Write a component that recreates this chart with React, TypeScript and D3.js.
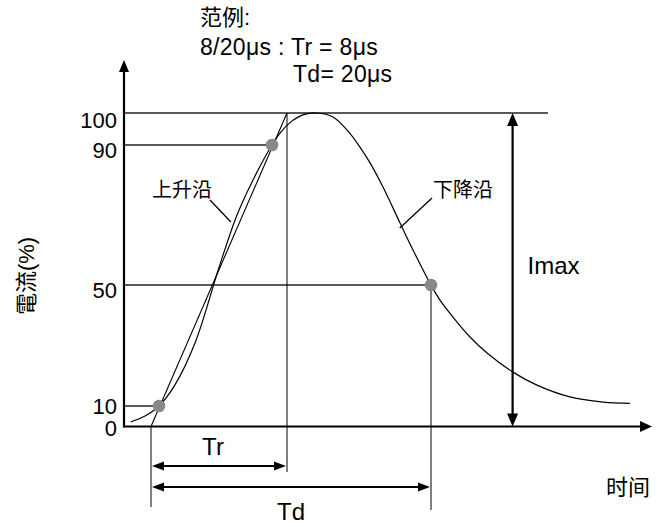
import React, { useRef, useEffect } from "react";
import * as d3 from "d3";

const width = 667;
const height = 527;
const font = "'Liberation Sans', Arial, 'Noto Sans CJK SC', sans-serif";

// 8/20 µs surge waveform (time in µs, current in %)
const waveTime = [
  -1.2, -0.35, 0.47, 1.4, 2.6, 4.0, 5.06, 6.06, 7.12, 7.65, 8.25, 9.33, 10.5,
  11.83, 13, 14.08, 14.92, 16, 17.42, 18.5, 20, 20.75, 21.83, 23.25, 24.67,
  26.83, 28.83, 31.58, 34.33, 36.58,
];
const waveCurrent = [
  2.2, 5.1, 10, 16.9, 31, 55, 70, 80.6, 90, 94.1, 97.0, 99.4, 100, 98.75, 94.7,
  89.4, 84.9, 78, 67.7, 60, 50, 45, 39.4, 32.8, 27.5, 21.2, 16.9, 13, 11.3,
  10.9,
];
const levelTicks = [0, 10, 50, 90, 100];
const tickShift = ["0.39em", "0.32em", "0.59em", "0.59em", "0.66em"];
const markTime = [0.47, 7.12, 20];
const markLevel = [10, 90, 50];
const riseTime = 8; // Tr
const decayTime = 20; // Td
const peakLineEnd = 29.75; // where the 100% line stops
const imaxTime = 26.8; // position of the Imax arrow

// schematic drawing: both axes are piecewise linear
const x = d3.scaleLinear().domain([0, riseTime, decayTime]).range([151, 287, 431]);
const y = d3.scaleLinear().domain(levelTicks).range([426.5, 406, 285, 145, 113]);

const axisLeftX = 124;
const axisRightX = 652;
const axisTopY = 60;

const head = (tx: number, ty: number, dx: number, dy: number, len = 11, half = 4.5) => {
  // tip at (tx,ty), pointing in direction (dx,dy)
  const bx = tx - dx * len;
  const by = ty - dy * len;
  const px = -dy * half;
  const py = dx * half;
  return `M${tx},${ty}L${bx + px},${by + py}L${bx - px},${by - py}Z`;
};

const App = () => {
  const yAxisRef = useRef<SVGGElement>(null);

  useEffect(() => {
    if (!yAxisRef.current) return;
    const g = d3.select(yAxisRef.current);
    g.call(
      d3.axisLeft(y).tickValues(levelTicks).tickSize(0).tickPadding(7).tickFormat(d3.format("d")) as never
    );
    g.select(".domain").remove();
    g.selectAll("text")
      .attr("font-size", 22)
      .attr("font-family", font)
      .attr("fill", "#000")
      .attr("dy", (_d, i) => tickShift[i]);
  }, []);

  const pts = waveTime.map((t, i) => [x(t), y(waveCurrent[i])] as [number, number]);
  const wave = d3.line().curve(d3.curveCatmullRom.alpha(0.5))(pts) || "";

  const y0 = y(0);
  const trY = 466;
  const tdY = 487;
  const riseAnchor = [x(4.7), y(68)];
  const fallAnchor = [x(17.4), y(66.3)];

  return (
    <svg
      width={width}
      height={height}
      style={{ position: "absolute", left: 0, top: 0, background: "#fff" }}
      fontFamily={font}
    >
      {/* header */}
      <text x={200} y={25} fontSize={22}>范例:</text>
      <text x={200} y={55} fontSize={23} letterSpacing={0.3}>8/20μs : Tr = 8μs</text>
      <text x={293} y={82} fontSize={23} letterSpacing={0.3}>Td= 20μs</text>

      {/* level guide lines */}
      <line x1={axisLeftX} x2={x(peakLineEnd)} y1={y(100)} y2={y(100)} stroke="#222" strokeWidth={1.5} />
      {markTime.map((t, i) => (
        <line key={i} x1={axisLeftX} x2={x(t)} y1={y(markLevel[i])} y2={y(markLevel[i])} stroke="#222" strokeWidth={1.3} />
      ))}

      {/* vertical reference lines */}
      <line x1={x(0)} x2={x(0)} y1={y0} y2={507} stroke="#000" strokeWidth={1} />
      <line x1={x(riseTime)} x2={x(riseTime)} y1={y(100)} y2={472} stroke="#000" strokeWidth={1} />
      <line x1={x(decayTime)} x2={x(decayTime)} y1={y(50)} y2={510} stroke="#000" strokeWidth={1} />

      {/* virtual front line */}
      <line x1={x(0)} y1={y(0)} x2={x(riseTime)} y2={y(100)} stroke="#000" strokeWidth={1.1} />

      {/* waveform */}
      <path d={wave} fill="none" stroke="#000" strokeWidth={1.2} />

      {/* marked points */}
      {markTime.map((t, i) => (
        <circle key={i} cx={x(t)} cy={y(markLevel[i])} r={6.3} fill="#888" />
      ))}

      {/* axes */}
      <line x1={axisLeftX} x2={axisLeftX} y1={y0 + 1} y2={axisTopY + 8} stroke="#000" strokeWidth={2.2} />
      <path d={head(axisLeftX, axisTopY, 0, -1, 12, 5)} fill="#000" />
      <line x1={axisLeftX - 1} x2={axisRightX - 8} y1={y0} y2={y0} stroke="#000" strokeWidth={2.2} />
      <path d={head(axisRightX, y0, 1, 0, 12, 5.5)} fill="#000" />
      <g ref={yAxisRef} transform={`translate(${axisLeftX},0)`} />

      {/* Imax arrow */}
      <line x1={x(imaxTime)} x2={x(imaxTime)} y1={y(100) + 8} y2={y0 - 8} stroke="#000" strokeWidth={2.2} />
      <path d={head(x(imaxTime), y(100), 0, -1, 13, 5.5)} fill="#000" />
      <path d={head(x(imaxTime), y0, 0, 1, 13, 5.5)} fill="#000" />
      <text x={x(imaxTime) + 15} y={274} fontSize={24}>Imax</text>

      {/* Tr / Td dimension arrows */}
      <line x1={x(0) + 6} x2={x(riseTime) - 6} y1={trY} y2={trY} stroke="#000" strokeWidth={1.8} />
      <path d={head(x(0) + 1, trY, -1, 0, 12, 4.5)} fill="#000" />
      <path d={head(x(riseTime) - 1, trY, 1, 0, 12, 4.5)} fill="#000" />
      <line x1={x(0) + 6} x2={x(decayTime) - 6} y1={tdY} y2={tdY} stroke="#000" strokeWidth={1.8} />
      <path d={head(x(0) + 1, tdY, -1, 0, 12, 4.5)} fill="#000" />
      <path d={head(x(decayTime) - 1, tdY, 1, 0, 12, 4.5)} fill="#000" />
      <text x={(x(0) + x(riseTime)) / 2 - 6} y={455} fontSize={24} textAnchor="middle">Tr</text>
      <text x={(x(0) + x(decayTime)) / 2} y={520} fontSize={24} textAnchor="middle">Td</text>

      {/* edge labels */}
      <text x={152} y={197} fontSize={20}>上升沿</text>
      <line x1={210} y1={200} x2={riseAnchor[0]} y2={riseAnchor[1]} stroke="#000" strokeWidth={1.3} />
      <text x={433} y={197} fontSize={20}>下降沿</text>
      <line x1={432} y1={198} x2={fallAnchor[0]} y2={fallAnchor[1]} stroke="#000" strokeWidth={1.3} />

      {/* axis titles */}
      <text x={606} y={495} fontSize={22}>时间</text>
      <text transform="translate(34,276) rotate(-90)" fontSize={22} textAnchor="middle">電流(%)</text>
    </svg>
  );
};

export default App;
